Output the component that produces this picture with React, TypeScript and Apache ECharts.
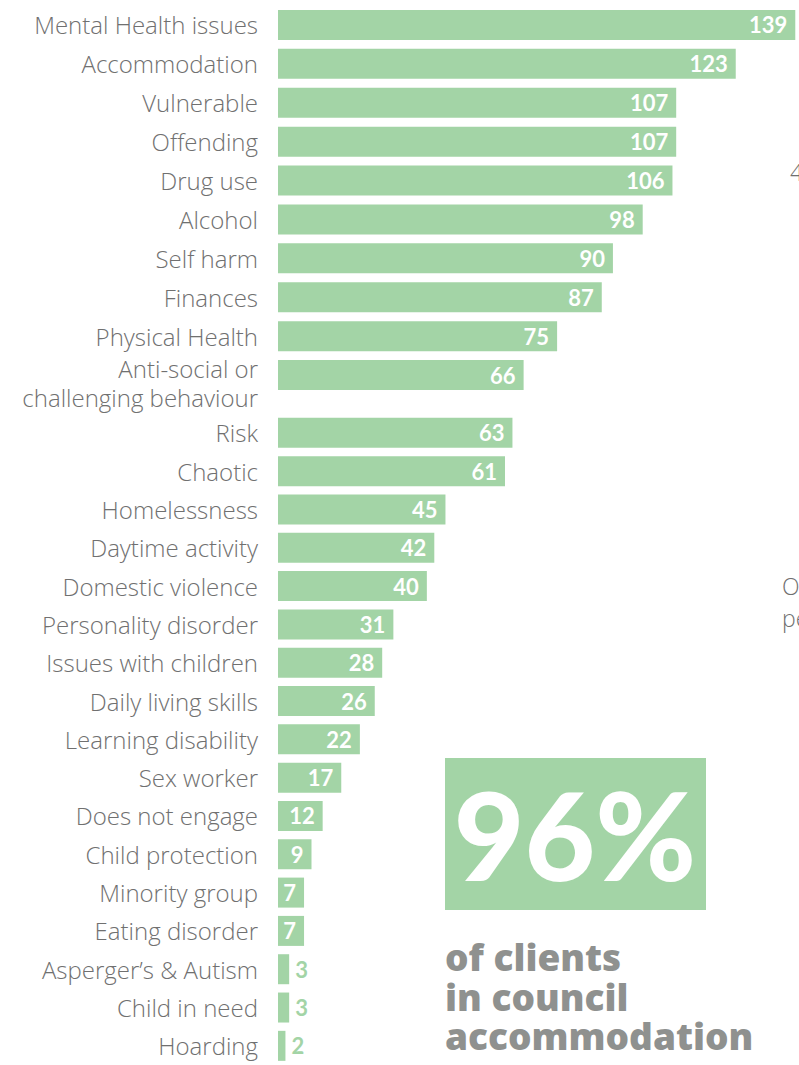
import React, { useEffect, useRef } from "react";
import * as echarts from "echarts";

const categories = [
  "Mental Health issues",
  "Accommodation",
  "Vulnerable",
  "Offending",
  "Drug use",
  "Alcohol",
  "Self harm",
  "Finances",
  "Physical Health",
  "Anti-social or\nchallenging behaviour",
  "Risk",
  "Chaotic",
  "Homelessness",
  "Daytime activity",
  "Domestic violence",
  "Personality disorder",
  "Issues with children",
  "Daily living skills",
  "Learning disability",
  "Sex worker",
  "Does not engage",
  "Child protection",
  "Minority group",
  "Eating disorder",
  "Asperger\u2019s & Autism",
  "Child in need",
  "Hoarding",
];
const values = [139, 123, 107, 107, 106, 98, 90, 87, 75, 66, 63, 61, 45, 42, 40, 31, 28, 26, 22, 17, 12, 9, 7, 7, 3, 3, 2];
const splitAt = 10;

const calloutValue = "96%";
const calloutText = "of clients\nin council\naccommodation";

const GREEN = "#a3d4a6";
const LABEL_GRAY = "#707070";

export default function App() {
  const ref = useRef<HTMLDivElement>(null);
  useEffect(() => {
    document.body.style.margin = "0";
    const chart = echarts.init(ref.current!, null, { renderer: "svg" });
    const makeData = (vals: number[]) =>
      vals.map((v) =>
        v < 5
          ? { value: v, label: { position: "right", color: GREEN, distance: 6 } }
          : v
      );
    const topCats = categories.slice(0, splitAt);
    const botCats = categories.slice(splitAt);
    const labelFont = {
      color: LABEL_GRAY,
      fontFamily: "Open Sans",
      fontWeight: 300,
      fontSize: 24,
    };
    const axisLabel = {
      ...labelFont,
      margin: 20,
      interval: 0,
      formatter: (v: string) =>
        v.includes("\n")
          ? "{s| }\n" + v.split("\n").map((l) => "{n|" + l + "}").join("\n")
          : v,
      rich: {
        s: { ...labelFont, fontSize: 8, lineHeight: 16 },
        n: { ...labelFont, lineHeight: 29 },
      },
    };
    const yCommon = {
      type: "category",
      inverse: true,
      axisLine: { show: false },
      axisTick: { show: false },
      axisLabel,
    };
    const xCommon = {
      type: "value",
      min: 0,
      max: 140,
      show: false,
    };
    const seriesCommon = {
      type: "bar",
      barWidth: 30,
      itemStyle: { color: GREEN },
      label: {
        show: true,
        position: "insideRight",
        distance: 8,
        color: "#ffffff",
        fontFamily: "Lato",
        fontWeight: "bold",
        fontSize: 22,
      },
    };
    chart.setOption({
      animation: false,
      grid: [
        { left: 278, width: 522, top: 5.5, height: 389 },
        { left: 278, width: 522, top: 413.7, height: 656 },
      ],
      xAxis: [
        { ...xCommon, gridIndex: 0 },
        { ...xCommon, gridIndex: 1 },
      ],
      yAxis: [
        { ...yCommon, gridIndex: 0, data: topCats },
        { ...yCommon, gridIndex: 1, data: botCats },
      ],
      series: [
        { ...seriesCommon, xAxisIndex: 0, yAxisIndex: 0, data: makeData(values.slice(0, splitAt)) },
        { ...seriesCommon, xAxisIndex: 1, yAxisIndex: 1, data: makeData(values.slice(splitAt)) },
      ],
      graphic: [
        {
          type: "rect",
          shape: { x: 445, y: 758, width: 261, height: 152 },
          style: { fill: GREEN },
        },
        {
          type: "text",
          x: 575,
          y: 834,
          style: {
            text: calloutValue,
            fill: "#ffffff",
            font: "900 122px Lato",
            align: "center",
            verticalAlign: "middle",
          },
        },
        {
          type: "text",
          x: 445,
          y: 937,
          style: {
            text: calloutText,
            fill: "#8f918f",
            font: "800 37px 'Open Sans'",
            lineHeight: 39.5,
            align: "left",
            verticalAlign: "top",
          },
        },
        {
          type: "text",
          x: 790,
          y: 172,
          style: { text: "4", fill: LABEL_GRAY, font: "300 23px 'Open Sans'", verticalAlign: "middle" },
        },
        {
          type: "text",
          x: 782,
          y: 586,
          style: { text: "O", fill: LABEL_GRAY, font: "300 23px 'Open Sans'", verticalAlign: "middle" },
        },
        {
          type: "text",
          x: 782,
          y: 618,
          style: { text: "pe", fill: LABEL_GRAY, font: "300 23px 'Open Sans'", verticalAlign: "middle" },
        },
      ],
    });
    return () => chart.dispose();
  }, []);
  return <div ref={ref} style={{ width: 799, height: 1065 }} />;
}
